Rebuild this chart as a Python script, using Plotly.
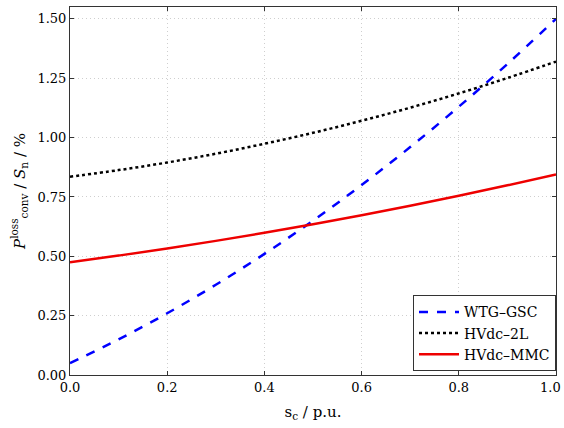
import plotly.graph_objects as go

s_c = [0.0, 0.1, 0.2, 0.3, 0.4, 0.5, 0.6, 0.7, 0.8, 0.9, 1.0]
wtg_gsc = [0.05, 0.15, 0.26, 0.38, 0.51, 0.65, 0.80, 0.96, 1.13, 1.31, 1.50]
hvdc_2l = [0.835, 0.863, 0.895, 0.932, 0.974, 1.020, 1.071, 1.126, 1.186, 1.251, 1.320]
hvdc_mmc = [0.475, 0.503, 0.533, 0.565, 0.599, 0.635, 0.673, 0.713, 0.755, 0.799, 0.845]

x_ticks = [0.0, 0.2, 0.4, 0.6, 0.8, 1.0]
x_tick_labels = ["0.0", "0.2", "0.4", "0.6", "0.8", "1.0"]
y_ticks = [0.0, 0.25, 0.5, 0.75, 1.0, 1.25, 1.5]
y_tick_labels = ["0.00", "0.25", "0.50", "0.75", "1.00", "1.25", "1.50"]

font_family = "DejaVu Serif"

fig = go.Figure()
fig.add_trace(go.Scatter(x=s_c, y=wtg_gsc, mode="lines", name="WTG–GSC",
                         line=dict(color="#0000ff", width=2.5, dash="dash", shape="spline")))
fig.add_trace(go.Scatter(x=s_c, y=hvdc_2l, mode="lines", name="HVdc–2L",
                         line=dict(color="black", width=2.5, dash="dot", shape="spline")))
fig.add_trace(go.Scatter(x=s_c, y=hvdc_mmc, mode="lines", name="HVdc–MMC",
                         line=dict(color="#ee0000", width=2.5, shape="spline")))

axis_common = dict(
    showline=True, linecolor="#333333", linewidth=1, mirror="ticks",
    ticks="inside", ticklen=4, tickcolor="#333333",
    showgrid=True, gridcolor="#cfcfcf", gridwidth=1, griddash="1px,3px",
    zeroline=False, tickfont=dict(family=font_family, size=13, color="black"),
)

fig.update_xaxes(range=[0, 1], tickvals=x_ticks[:-1], ticktext=x_tick_labels[:-1],
                 title=dict(text="s<sub>c</sub> / p.u.", font=dict(family=font_family, size=15, color="black"), standoff=12),
                 **axis_common)
fig.update_yaxes(range=[0, 1.55], tickvals=y_ticks, ticktext=y_tick_labels,
                 title=dict(text="<i>P</i><sup>loss</sup><sub>conv</sub> / <i>S</i><sub>n</sub> / %",
                            font=dict(family=font_family, size=15, color="black"), standoff=8),
                 **axis_common)

# last x tick label, kept inside the page edge
fig.add_annotation(x=x_ticks[-1], y=0, xref="x", yref="paper", text=x_tick_labels[-1],
                   showarrow=False, yanchor="top", xanchor="right", xshift=7, yshift=-3,
                   font=dict(family=font_family, size=13, color="black"))

fig.update_layout(
    width=564, height=428,
    margin=dict(l=70, r=8, t=7, b=53),
    plot_bgcolor="white", paper_bgcolor="white",
    font=dict(family=font_family, size=13, color="black"),
    legend=dict(x=1, y=0.01, xanchor="right", yanchor="bottom",
                bordercolor="#333333", borderwidth=1, bgcolor="white",
                font=dict(family=font_family, size=14, color="black"),
                tracegroupgap=0, itemwidth=40),
    showlegend=True,
)

fig.write_html("out.html")
